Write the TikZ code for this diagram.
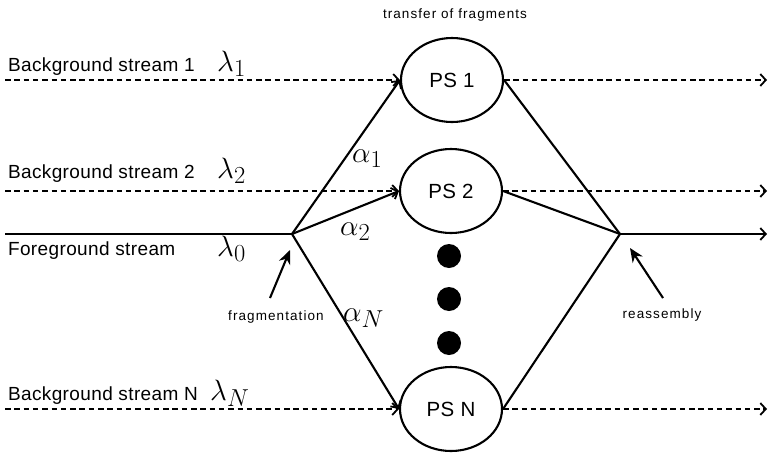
\documentclass[tikz,border=0pt]{standalone}
\usepackage{fontspec}
\setmainfont{Liberation Sans}
\newfontfamily\bigf[LetterSpace=2]{Liberation Sans}
\newfontfamily\smallf[LetterSpace=8]{Liberation Sans}
\usetikzlibrary{arrows.meta,shapes.geometric}
\begin{document}
\begin{tikzpicture}[x=1pt,y=-1pt,
  line width=2.1pt,
  ps/.style={draw,ellipse,minimum width=102pt,minimum height=84pt,inner sep=0pt,
    font=\bigf\fontsize{20.5}{24}\selectfont},
  dashline/.style={dash pattern=on 5.5pt off 3.8pt},
  barb/.style={-{Straight Barb[length=5.5pt,width=12pt,line width=1.8pt]}},
  pointer/.style={-{Stealth[length=14pt,width=12pt]}},
  bigtxt/.style={anchor=base west,inner sep=0pt,font=\bigf\fontsize{19}{22}\selectfont},
  smalltxt/.style={anchor=base,inner sep=0pt,font=\smallf\fontsize{13.5}{16}\selectfont},
  mathtxt/.style={anchor=base west,inner sep=0pt,scale=1.18,font=\fontsize{24.88}{30}\selectfont},
  dot/.style={circle,fill,minimum size=24pt,inner sep=0pt}
]
\useasboundingbox (0,0) rectangle (768,458);

% processing stations
\node[ps] (ps1) at (452,80) {PS 1};
\node[ps] (ps2) at (451,191) {PS 2};
\node[ps] (psn) at (451,409) {PS N};
\node[dot] (d1) at (449,256) {};
\node[dot] (d2) at (449,299) {};
\node[dot] (d3) at (449,343) {};

% coordinates
\coordinate (frag) at (292,234);
\coordinate (reas) at (620,234);
\coordinate (in1) at (5,80);
\coordinate (in2) at (5,191);
\coordinate (inN) at (5,409);
\coordinate (fin) at (5,234);
\coordinate (out1) at (767,80);
\coordinate (out2) at (767,191);
\coordinate (outN) at (767,409);
\coordinate (fout) at (767,234);
\coordinate (fragtail) at (270,298);
\coordinate (fraghead) at (290,250);
\coordinate (reastail) at (663,298);
\coordinate (reashead) at (630,248);

% background streams
\draw[dashline,barb] (in1) -- (ps1.west);
\draw[dashline,barb] (in2) -- (ps2.west);
\draw[dashline,barb] (inN) -- (psn.west);
\draw[dashline,barb] (ps1.east) -- (out1);
\draw[dashline,barb] (ps2.east) -- (out2);
\draw[dashline,barb] (psn.east) -- (outN);

% foreground stream
\draw (fin) -- (frag);
\draw[barb] (frag) -- (ps1.west);
\draw[barb] (frag) -- (ps2.west);
\draw[barb] (frag) -- (psn.west);
\draw (ps1.east) -- (reas);
\draw (ps2.east) -- (reas);
\draw (psn.east) -- (reas);
\draw[barb] (reas) -- (fout);

% pointers
\draw[pointer] (fragtail) -- (fraghead);
\draw[pointer] (reastail) -- (reashead);

% labels
\node[bigtxt] (b1) at (7,71) {Background stream 1};
\node[mathtxt] (l1) at (216,71) {$\lambda_1$};
\node[bigtxt] (b2) at (7,178) {Background stream 2};
\node[mathtxt] (l2) at (216,178) {$\lambda_2$};
\node[bigtxt] (fg) at (7,255) {Foreground stream};
\node[mathtxt] (l0) at (216,256) {$\lambda_0$};
\node[bigtxt] (bn) at (7,400) {Background stream N};
\node[mathtxt] (ln) at (209,400) {$\lambda_N$};

\node[mathtxt] (a1) at (351,162) {$\alpha_1$};
\node[mathtxt] (a2) at (339,235) {$\alpha_2$};
\node[mathtxt] (an) at (342,321) {$\alpha_N$};

\node[smalltxt] (tr) at (455,18) {transfer of fragments};
\node[smalltxt] (fr) at (276,320) {fragmentation};
\node[smalltxt] (ra) at (662,318) {reassembly};
\end{tikzpicture}
\end{document}
